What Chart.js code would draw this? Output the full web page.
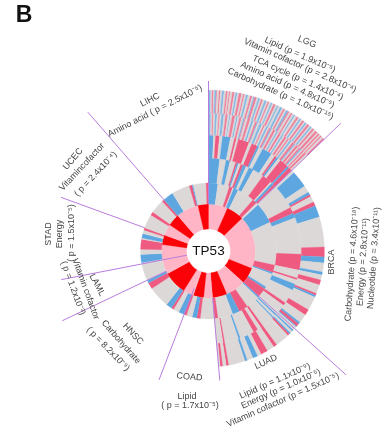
<!DOCTYPE html>
<html>
<head>
<meta charset="utf-8">
<script src="https://cdn.jsdelivr.net/npm/chart.js@4"></script>
<style>
  html, body { margin: 0; background: #fff; }
  canvas { display: block; filter: blur(0.45px); }
</style>
</head>
<body>
<canvas id="chart-container-1" width="392" height="435"></canvas>
<script>
// Arc widths in degrees, read clockwise from 12 o'clock
// Order of cancers: LGG, BRCA, LUAD, COAD, HNSC, LAML, STAD, UCEC, LIHC
const cancers = ["LGG", "BRCA", "LUAD", "COAD", "HNSC", "LAML", "STAD", "UCEC", "LIHC"];
const cancerWidths = [46, 86, 43, 26, 43.5, 14.5, 31, 29, 41];

const geneValues = [24, 22, 66, 20, 25, 18, 11, 13, 2, 11, 29, 3.5, 14.5, 19, 12, 14, 15, 28, 13];
const geneKinds = ["l", "r", "l", "r", "l", "r", "l", "r", "l", "l", "r", "l", "l", "l", "r", "l", "r", "l", "r"];

const level1Values = [
  8, 10, 3, 1, 4, 15, 4, 1,
  1, 18, 37, 6.5, 1.5, 12, 2, 8,
  1.5, 11.5, 8, 6, 13, 3,
  12, 3, 4, 5, 2,
  5, 5, 2, 5, 18.5, 5.5, 2.5,
  14.5,
  1, 7, 4.5, 8.5, 1, 4, 3, 2,
  12, 3, 12, 2,
  9, 15.5, 2.5, 1, 11, 2
];
const level1Kinds = [
  "b", "g", "p", "g", "b", "g", "p", "g",
  "g", "b", "g", "p", "b", "g", "b", "p",
  "b", "g", "p", "b", "g", "p",
  "g", "p", "b", "g", "p",
  "b", "g", "p", "b", "g", "p", "b",
  "g",
  "g", "b", "g", "p", "g", "b", "g", "p",
  "g", "p", "g", "p",
  "b", "g", "p", "b", "g", "p"
];

const level2Values = [
  7, 4, 2.5, 3.5, 1, 1, 1.5, 1.5, 2, 2, 3, 7, 6, 1, 1.5, 1.5,
  16, 4, 3, 23, 10, 5, 1.2, 2.8, 4, 9, 2, 6,
  1, 1, 1.5, 0.8, 7.7, 1.6, 2.4, 3, 9, 1.2, 8.8, 1, 4,
  185
];
const level2Kinds = [
  "b", "g", "b", "g", "p", "b", "g", "p", "b", "g", "b", "g", "p", "g", "b", "p",
  "g", "p", "b", "g", "p", "g", "p", "g", "b", "g", "p", "g",
  "g", "b", "g", "b", "g", "p", "g", "p", "g", "b", "g", "p", "g",
  "n"
];

const level3Values = [
  2.5, 1, 2, 1.5, 4, 2, 1, 1, 5.5, 1.5, 3, 1, 2, 5, 2, 1, 1, 1.5, 4.5, 1, 2,
  1.5, 8.5, 3.5, 1.5, 1, 3, 2, 6, 15, 5, 3, 4.5, 1.5, 2.5, 2.5, 4.5, 1, 1, 7, 3, 4.5, 1, 1.5, 0.5, 1,
  1, 0.8, 1.2, 0.8, 1, 1.2, 6, 1.8, 3.7, 3.5, 2, 2.5, 3, 1.2, 8.3, 1.2, 1.8, 1.2, 0.8,
  185
];
const level3Kinds = [
  "b", "g", "p", "g", "b", "g", "p", "g", "p", "g", "p", "b", "g", "b", "g", "p", "b", "g", "p", "b", "p",
  "g", "b", "g", "b", "p", "g", "p", "b", "g", "p", "b", "g", "b", "g", "p", "g", "p", "b", "g", "p", "g", "b", "p", "b", "g",
  "g", "b", "g", "b", "p", "g", "g", "p", "g", "p", "g", "b", "g", "b", "g", "p", "g", "p", "g",
  "n"
];

const level4Values = [
  1, 0.6, 0.5, 0.7, 0.8, 0.7, 0.5, 0.7, 1, 0.7, 0.9, 0.7, 0.4, 0.8, 1.2, 0.6,
  0.6, 0.7, 0.9, 0.7, 0.6, 0.4, 0.9, 1, 0.7, 0.8, 0.8, 0.8, 0.4, 0.8, 1, 0.7,
  0.6, 0.7, 0.8, 0.6, 0.7, 0.5, 0.6, 1, 0.6, 0.6, 0.6, 0.9, 0.5, 0.7, 0.6, 1,
  0.6, 0.6, 0.5, 0.8, 0.6, 1, 0.5, 0.5, 1, 0.5, 0.8, 0.6, 0.5, 0.7, 0.4, 1, 0.8,
  314
];
const level4Kinds = [
  "b", "g", "p", "g", "b", "g", "p", "g", "b", "g", "p", "g", "b", "g", "p", "g",
  "b", "g", "p", "g", "b", "p", "g", "p", "g", "b", "g", "p", "b", "g", "b", "g",
  "p", "g", "b", "g", "p", "b", "g", "p", "g", "b", "g", "p", "g", "b", "g", "p",
  "g", "p", "g", "b", "g", "p", "b", "g", "p", "g", "p", "b", "g", "p", "g", "p", "g",
  "n"
];

const level5Values = [
  0.8, 0.5, 0.5, 0.4, 0.6, 0.3, 0.7, 0.5, 0.6, 0.7, 0.7, 0.6, 0.5, 0.4, 0.8, 0.7,
  0.5, 0.6, 0.6, 0.9, 0.6, 0.5, 0.6, 0.7, 0.8, 0.7, 0.5, 0.4, 0.8, 0.6, 0.6, 0.5,
  0.6, 0.7, 0.7, 0.5, 0.5, 0.7, 0.5, 0.5, 0.8, 0.6, 0.5, 0.7, 0.8, 0.5, 0.6, 0.6,
  0.7, 0.5, 0.7, 0.6, 0.6, 0.5, 0.8, 0.7, 0.5, 0.6, 0.6, 0.7, 0.5, 0.6, 0.4, 0.8,
  0.5, 0.6, 0.5, 0.7, 0.6, 0.9, 0.5, 0.6, 0.5, 0.5, 0.7, 0.6,
  314
];
const level5Kinds = [
  "b", "g", "p", "g", "b", "p", "g", "p", "g", "b", "g", "p", "g", "p", "g", "p",
  "g", "b", "g", "p", "g", "p", "g", "b", "g", "p", "g", "b", "p", "g", "b", "g",
  "p", "g", "b", "g", "p", "g", "b", "g", "p", "g", "b", "g", "b", "g", "p", "g",
  "b", "p", "g", "p", "g", "b", "g", "p", "g", "b", "g", "p", "g", "b", "g", "p",
  "g", "b", "g", "p", "g", "p", "g", "p", "g", "p", "g", "p",
  "n"
];

const kindColors = {
  l: "#ffb5c5",
  r: "#fb0208",
  g: "#dcd8d8",
  p: "#ee5a80",
  b: "#5ea6e0",
  n: "rgba(0,0,0,0)",
};

// The thinnest stripes look washed out in the figure
const softColors = { ...kindColors, p: "#ee7f9b", b: "#84b8e4" };

// Outer rings come first in Chart.js
const rings = [
  { values: level5Values, kinds: level5Kinds, weight: 23, palette: softColors },
  { values: level4Values, kinds: level4Kinds, weight: 22, palette: softColors },
  { values: level3Values, kinds: level3Kinds, weight: 23, palette: kindColors },
  { values: level2Values, kinds: level2Kinds, weight: 25, palette: kindColors },
  { values: level1Values, kinds: level1Kinds, weight: 21, palette: kindColors },
  { values: geneValues, kinds: geneKinds, weight: 25, palette: kindColors },
];

// Spokes sit on the cancer boundaries: [inner radius, outer radius] for each cancer's end
const spokeRadii = [[68, 184], [65, 185], [47, 130], [40, 138], [47, 162], [22, 150], [68, 157], [68, 184], [47, 170]];

// text, x, y, rotation in degrees, font
const smallFont = "9px 'Liberation Sans'";
const textLabels = [
  ["B", 24, 16, 0, "bold 23px 'Liberation Sans'"],
  ["TP53", 208.5, 251.5, 0, "13.5px 'Liberation Sans'"],
  ["LGG", 307, 42, 22, smallFont],
  ["Lipid (p = 1.9x10⁻⁵)", 300, 55, 24, smallFont],
  ["Vitamin cofactor (p = 2.8x10⁻⁴)", 300, 65.7, 24, smallFont],
  ["TCA cycle (p = 1.4x10⁻⁴)", 297.7, 78, 24, smallFont],
  ["Amino acid (p = 4.8x10⁻⁵)", 287.5, 85, 24, smallFont],
  ["Carbohydrate (p = 1.0x10⁻¹⁵)", 280.5, 94, 24, smallFont],
  ["LIHC", 150, 100, -27, smallFont],
  ["Amino acid ( p = 2.5x10⁻⁵)", 155, 111, -27, smallFont],
  ["UCEC", 73, 159, -50, smallFont],
  ["Vitamincofactor", 82, 167, -47, smallFont],
  ["( p = 2.4x10⁻⁴)", 95.7, 174, -47, smallFont],
  ["STAD", 49, 234, -90, smallFont],
  ["Energy", 59.3, 234, -90, smallFont],
  ["( p = 1.5x10⁻⁵)", 72, 233, -90, smallFont],
  ["LAML", 97, 285, 62, smallFont],
  ["Vitamin cofactor", 85.7, 289, 70, smallFont],
  ["( p = 1.2x10⁻³)", 73, 288, 70, smallFont],
  ["HNSC", 133, 334, 47, smallFont],
  ["Carbohydrate", 121, 342, 49, smallFont],
  ["( p = 8.2x10⁻⁹)", 108, 349, 46, smallFont],
  ["COAD", 189.5, 377, 5, smallFont],
  ["Lipid", 187, 397, 0, smallFont],
  ["( p = 1.7x10⁻⁵)", 190, 406, 0, smallFont],
  ["LUAD", 266, 362, -25, smallFont],
  ["Lipid (p = 1.1x10⁻⁹)", 275, 381, -24, smallFont],
  ["Energy (p = 1.0x10⁻⁵)", 281, 389, -24, smallFont],
  ["Vitamin cofactor (p = 1.5x10⁻⁵)", 283, 400, -24, smallFont],
  ["BRCA", 331.7, 262, -90, smallFont],
  ["Carbohydrate (p = 4.6x10⁻¹⁸)", 352, 264, -86, smallFont],
  ["Energy (p = 2.8x10⁻¹¹)", 363, 262, -86, smallFont],
  ["Nucleotide (p = 3.4x10⁻¹¹)", 374, 258, -86, smallFont],
];

const spokesAndText = {
  id: "spokesAndText",
  afterDatasetsDraw(chart) {
    const { ctx, chartArea } = chart;
    const cx = (chartArea.left + chartArea.right) / 2;
    const cy = (chartArea.top + chartArea.bottom) / 2;

    // Spokes
    let angle = 0;
    ctx.save();
    ctx.strokeStyle = "#b87cdc";
    ctx.lineWidth = 1;
    for (let i = 0; i < cancers.length; i++) {
      angle += cancerWidths[i];
      const rad = ((angle - 90) * Math.PI) / 180;
      ctx.beginPath();
      ctx.moveTo(cx + spokeRadii[i][0] * Math.cos(rad), cy + spokeRadii[i][0] * Math.sin(rad));
      ctx.lineTo(cx + spokeRadii[i][1] * Math.cos(rad), cy + spokeRadii[i][1] * Math.sin(rad));
      ctx.stroke();
    }
    ctx.restore();

    // Labels
    ctx.save();
    ctx.textAlign = "center";
    ctx.textBaseline = "middle";
    for (const [text, x, y, rotation, font] of textLabels) {
      ctx.save();
      ctx.translate(x, y);
      ctx.rotate((rotation * Math.PI) / 180);
      ctx.font = font;
      ctx.fillStyle = font === smallFont ? "#444" : "#111";
      ctx.fillText(text, 0, 0);
      ctx.restore();
    }
    ctx.restore();
  },
};

const colorsFor = (ring) => ring.kinds.map((kind) => ring.palette[kind]);

new Chart(document.getElementById("chart-container-1"), {
  type: "doughnut",
  data: {
    datasets: rings.map((ring) => ({
      data: ring.values,
      weight: ring.weight,
      backgroundColor: colorsFor(ring),
      borderColor: colorsFor(ring),
      borderWidth: 0.3,
    })),
  },
  options: {
    responsive: false,
    animation: false,
    cutout: 22,
    layout: { padding: { left: 47.5, right: 22.5, top: 90, bottom: 23 } },
    plugins: { legend: { display: false }, tooltip: { enabled: false } },
  },
  plugins: [spokesAndText],
});
</script>
</body>
</html>
